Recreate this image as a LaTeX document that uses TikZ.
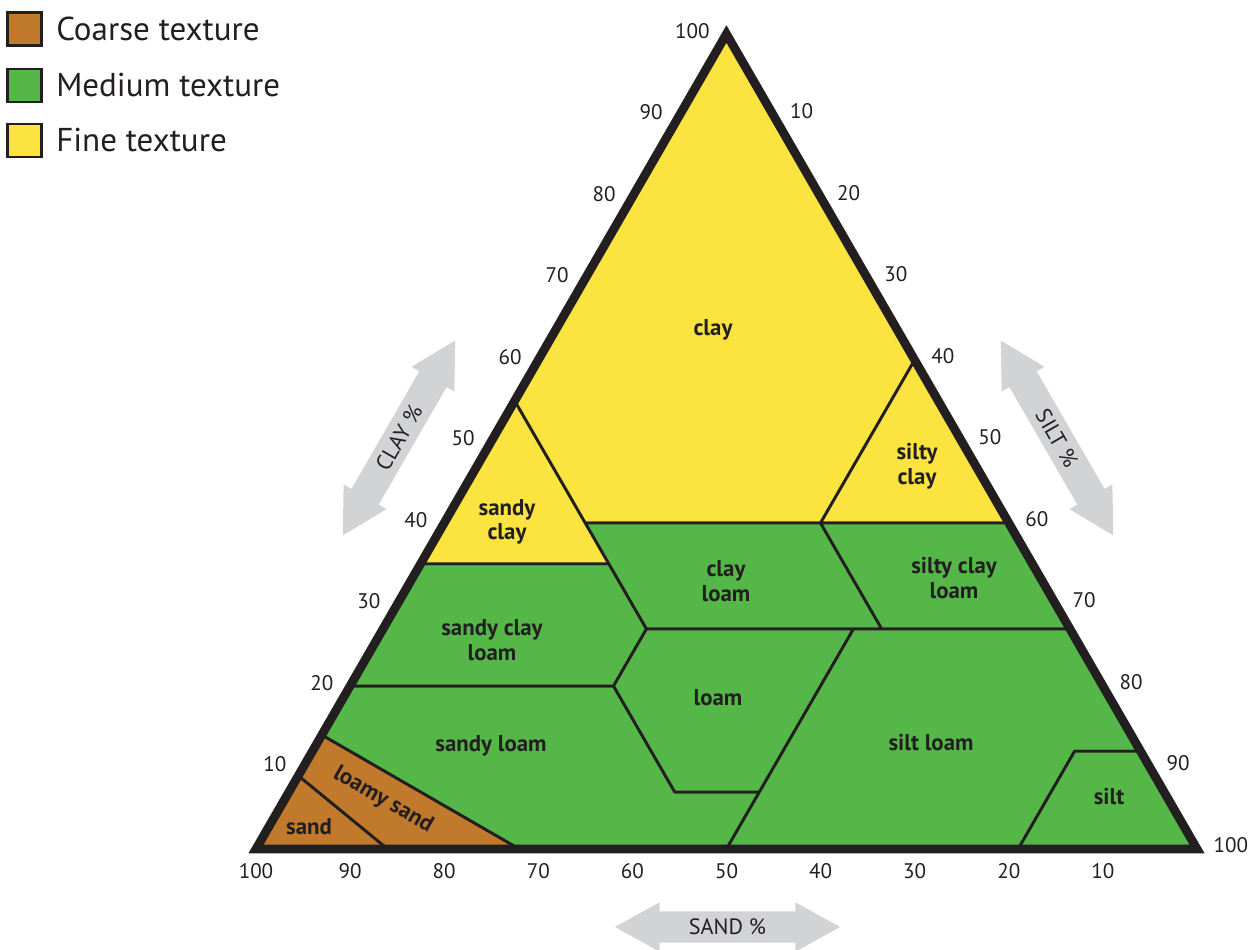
\documentclass[tikz,border=0pt]{standalone}
\usepackage{fontspec}
\setmainfont{PT Sans}
\usetikzlibrary{positioning, shapes.arrows}
\definecolor{coarse}{RGB}{193,122,43}
\definecolor{medium}{RGB}{84,183,72}
\definecolor{fine}{RGB}{251,228,64}
\definecolor{ink}{RGB}{35,31,32}
\definecolor{axisgray}{RGB}{209,211,212}

\begin{document}
\begin{tikzpicture}[
    region/.style={draw=ink, line width=0.8pt, line join=round},
    classlabel/.style={font=\fontsize{6.5}{7}\selectfont\bfseries, text=ink, align=center},
    tick/.style={font=\fontsize{6}{7}\selectfont, text=ink, inner sep=0pt},
    legendbox/.style={draw=ink, line width=0.6pt, minimum width=0.34cm, minimum height=0.33cm, inner sep=0pt},
    legendtext/.style={font=\fontsize{9.4}{10}\selectfont, text=ink, inner sep=0pt},
    axisarrow/.style={double arrow, fill=axisgray, minimum height=2.25cm, inner ysep=0.07cm, double arrow head extend=0.09cm, double arrow tip angle=58, font=\fontsize{6.3}{7}\selectfont, text=ink},
]
\useasboundingbox (0,0) rectangle (12.52,9.5);

% Legend
\node[legendbox, fill=coarse] (coarsebox) at (0.245,9.21) {};
\node[legendtext, right=0.13cm of coarsebox] (coarsetext) {Coarse texture};
\node[legendbox, fill=medium, below=0.21cm of coarsebox] (mediumbox) {};
\node[legendtext, right=0.13cm of mediumbox] (mediumtext) {Medium texture};
\node[legendbox, fill=fine, below=0.2cm of mediumbox] (finebox) {};
\node[legendtext, right=0.13cm of finebox] (finetext) {Fine texture};

% Texture triangle, coordinates are (silt %, clay %)
\begin{scope}[shift={(2.56,1.01)}, x={(0.0941cm,0cm)}, y={(0.04705cm,0.0815cm)}]
    \filldraw[region, fill=coarse] (0,0) -- (14,0) -- (0,9) -- cycle;
    \filldraw[region, fill=coarse] (0,9) -- (14,0) -- (28,0) -- (0,14) -- cycle;
    \filldraw[region, fill=medium] (0,14) -- (28,0) -- (50,0) -- (50,7) -- (41,7) -- (28,20) -- (0,20) -- cycle;
    \filldraw[region, fill=medium] (0,20) -- (28,20) -- (28,27) -- (20,35) -- (0,35) -- cycle;
    \filldraw[region, fill=fine] (0,35) -- (20,35) -- (15,40) -- (0,55) -- cycle;
    \filldraw[region, fill=fine] (0,55) -- (15,40) -- (40,40) -- (40,60) -- (0,100) -- cycle;
    \filldraw[region, fill=fine] (40,40) -- (60,40) -- (40,60) -- cycle;
    \filldraw[region, fill=medium] (15,40) -- (40,40) -- (53,27) -- (28,27) -- (20,35) -- cycle;
    \filldraw[region, fill=medium] (40,40) -- (60,40) -- (73,27) -- (53,27) -- cycle;
    \filldraw[region, fill=medium] (28,27) -- (50,27) -- (50,7) -- (41,7) -- (28,20) -- cycle;
    \filldraw[region, fill=medium] (50,27) -- (73,27) -- (88,12) -- (81,12) -- (81,0) -- (50,0) -- (50,7) -- cycle;
    \filldraw[region, fill=medium] (81,0) -- (100,0) -- (88,12) -- (81,12) -- cycle;
    \draw[ink, line width=2.5pt] (0,0) -- (100,0) -- (0,100) -- cycle;

    % Axis ticks
    \foreach \c in {10,20,...,100}
        \node[tick, anchor=east, xshift=-0.16cm, yshift=0.03cm] (claytick\c) at (0,\c) {\c};
    \foreach \s in {10,20,...,100}
        \node[tick, anchor=west, xshift=0.16cm, yshift=0.04cm] (silttick\s) at ({\s},{100-\s}) {\s};
    \foreach \s in {10,20,...,100}
        \node[tick, anchor=north, yshift=-0.135cm] (sandtick\s) at ({100-\s},0) {\s};
\end{scope}

% Class names
\node[classlabel] (clay) at (7.13,6.20) {clay};
\node[classlabel] (siltyclay) at (9.17,4.84) {silty\\clay};
\node[classlabel] (sandyclay) at (5.07,4.28) {sandy\\clay};
\node[classlabel] (clayloam) at (7.26,3.69) {clay\\loam};
\node[classlabel] (siltyclayloam) at (9.54,3.72) {silty clay\\loam};
\node[classlabel] (sandyclayloam) at (4.92,3.10) {sandy clay\\loam};
\node[classlabel] (loam) at (7.18,2.52) {loam};
\node[classlabel] (sandyloam) at (4.91,2.04) {sandy loam};
\node[classlabel] (siltloam) at (9.31,2.07) {silt loam};
\node[classlabel] (silt) at (11.09,1.53) {silt};
\node[classlabel] (sand) at (3.09,1.23) {sand};
\node[classlabel, rotate=-30] (loamysand) at (3.83,1.50) {loamy sand};

% Axis arrows
\node[axisarrow] (sandarrow) at (7.275,0.23) {SAND \%};
\node[axisarrow, rotate=60] (clayarrow) at (3.99,5.12) {CLAY \%};
\node[axisarrow, rotate=-60] (siltarrow) at (10.57,5.12) {SILT \%};
\end{tikzpicture}
\end{document}
